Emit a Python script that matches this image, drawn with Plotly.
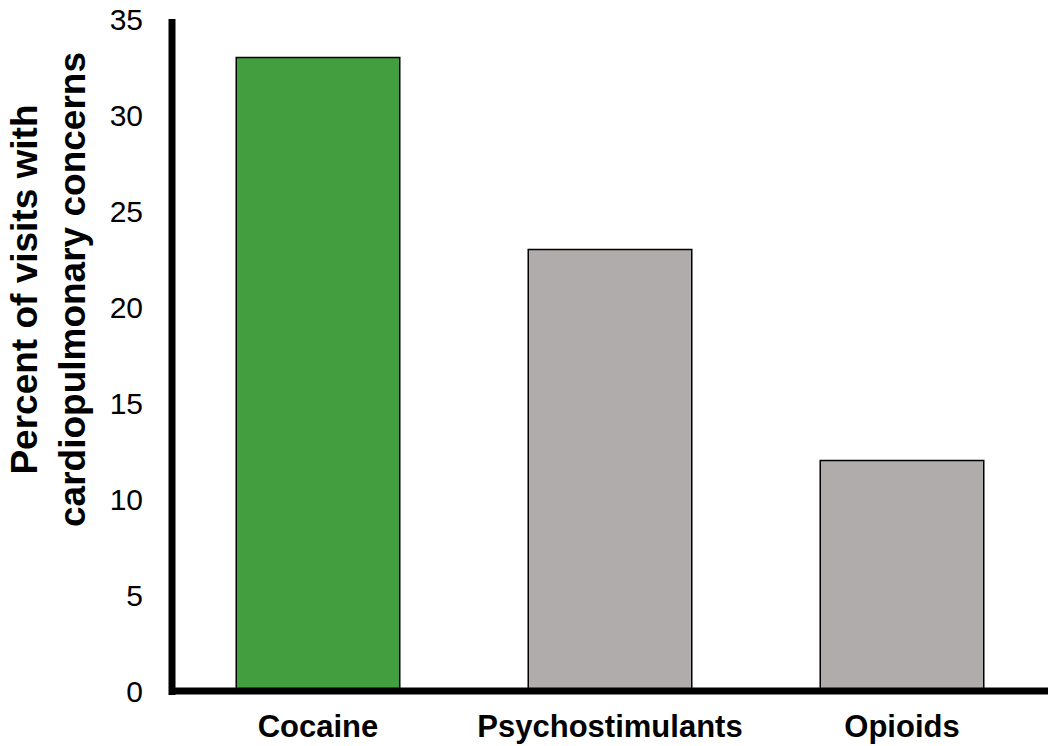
import plotly.graph_objects as go

categories = ["Cocaine", "Psychostimulants", "Opioids"]
values = [33, 23, 12]
bar_colors = ["#429E3E", "#AFACAB", "#AFACAB"]
y_ticks = [0, 5, 10, 15, 20, 25, 30, 35]
y_title = "Percent of visits with<br>cardiopulmonary concerns"

L, R, T, B = 172, 0, 19, 55
W, H = 1048, 746
pw, ph = W - L - R, H - T - B

fig = go.Figure(go.Bar(
    x=categories, y=values,
    marker=dict(color=bar_colors, line=dict(color="black", width=1.5)),
    width=0.56,
))

fig.update_layout(
    width=W, height=H,
    margin=dict(l=L, r=R, t=T, b=B, pad=0, autoexpand=False),
    paper_bgcolor="white", plot_bgcolor="white",
    showlegend=False,
    font=dict(family="Liberation Sans, Arial, sans-serif", color="black"),
    xaxis=dict(
        range=[-0.5, 2.5], showgrid=False, zeroline=False, showline=False,
        automargin=False,
        ticks="outside", ticklen=8, tickcolor="rgba(0,0,0,0)",
        tickfont=dict(size=31),
        tickvals=categories,
        ticktext=["<b>" + c + "</b>" for c in categories],
    ),
    yaxis=dict(
        range=[0, 35], showgrid=False, zeroline=False, showline=False,
        automargin=False,
        tickvals=y_ticks,
        ticks="outside", ticklen=22, tickcolor="rgba(0,0,0,0)",
        tickfont=dict(size=30),
    ),
    shapes=[
        dict(type="line", xref="paper", yref="paper", x0=0, x1=0, y0=-0.006, y1=1,
             line=dict(color="black", width=7), layer="above"),
        dict(type="line", xref="paper", yref="paper", x0=0, x1=1, y0=0, y1=0,
             line=dict(color="black", width=7), layer="above"),
    ],
    annotations=[
        dict(text="<b>" + y_title + "</b>", textangle=-90,
             xref="paper", yref="paper",
             x=(48 - L) / pw, y=(H - B - 290) / ph,
             xanchor="center", yanchor="middle", showarrow=False,
             font=dict(size=37, color="black")),
    ],
)

fig.write_html("out.html")
